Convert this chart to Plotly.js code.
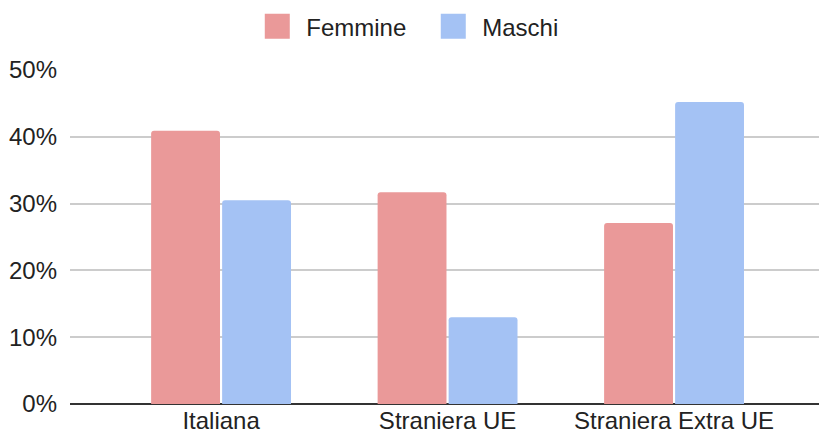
<!DOCTYPE html>
<html>
<head>
<meta charset="utf-8">
<script src="https://cdn.plot.ly/plotly-3.0.1.min.js"></script>
<style>html,body{margin:0;padding:0;background:#fff;}#chart{width:819px;height:439px;}</style>
</head>
<body>
<div id="chart"></div>
<script>
const categories = ["Italiana", "Straniera UE", "Straniera Extra UE"];
const femmine = [0.409, 0.317, 0.271];
const maschi = [0.305, 0.130, 0.452];
const seriesNames = ["Femmine", "Maschi"];
const yTicks = [0, 0.1, 0.2, 0.3, 0.4, 0.5];
const yTickLabels = ["0%", "10%", "20%", "30%", "40%", "50%"];

const font = "Liberation Sans, Arial, sans-serif";
const traces = [
  {type: "bar", name: seriesNames[0], x: categories, y: femmine, marker: {color: "#ea9999"}},
  {type: "bar", name: seriesNames[1], x: categories, y: maschi, marker: {color: "#a4c2f4"}}
];
const layout = {
  width: 819, height: 439,
  margin: {l: 70, r: 0, t: 70, b: 35},
  paper_bgcolor: "#fff", plot_bgcolor: "#fff",
  barmode: "group", bargap: 0.373, bargroupgap: 0.03, barcornerradius: 3,
  font: {family: font, size: 24, color: "#222"},
  showlegend: true,
  legend: {orientation: "h", x: 0.473, xanchor: "center", y: 1.13, yanchor: "middle", font: {size: 24, color: "#222"}, itemwidth: 48, entrywidth: 113, traceorder: "normal"},
  xaxis: {type: "category", range: [-0.667, 2.64], showgrid: false, showline: false, ticks: "", tickfont: {size: 24, color: "#222"}, automargin: false, fixedrange: true},
  yaxis: {range: [0, 0.5], tickvals: yTicks, ticktext: yTickLabels, showgrid: true, gridcolor: "#cccccc", gridwidth: 2, zeroline: true, zerolinecolor: "#333333", zerolinewidth: 2, showline: false, ticks: "", ticklabelstandoff: 12, tickfont: {size: 24, color: "#222"}, automargin: false, fixedrange: true}
};
Plotly.newPlot("chart", traces, layout, {displayModeBar: false, staticPlot: true}).then(function(gd){
  gd.querySelectorAll(".legend .legendpoints path").forEach(function(p){
    p.setAttribute("d", "M12.5,12.5H-12.5V-12.5H12.5Z");
    p.style.strokeWidth = "0";
  });
});
</script>
</body>
</html>
